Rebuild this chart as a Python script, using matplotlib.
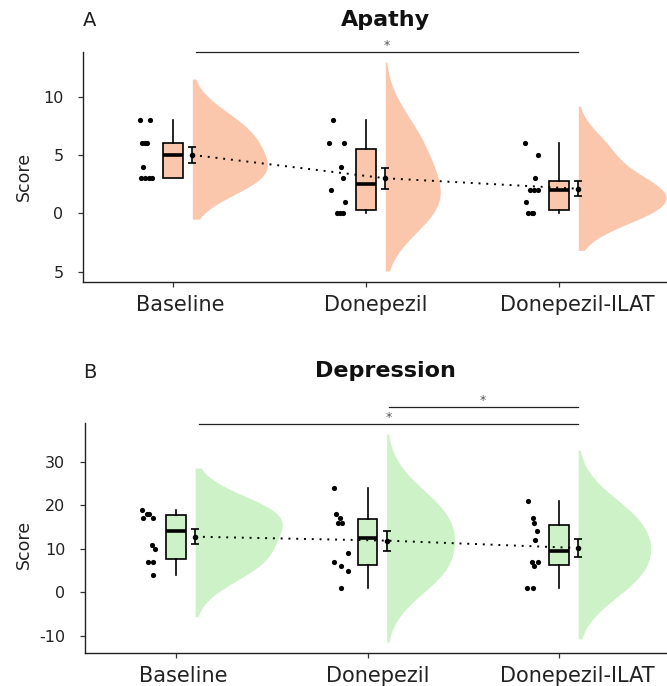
import numpy as np
import matplotlib.pyplot as plt
from matplotlib.transforms import ScaledTranslation

plt.rcParams['axes.unicode_minus'] = False

groups = ['Baseline', 'Donepezil', 'Donepezil-ILAT']

apathy_baseline = [8, 8, 6, 6, 6, 4, 3, 3, 3, 3]
apathy_donepezil = [8, 6, 6, 4, 3, 2, 1, 0, 0, 0]
apathy_ilat = [6, 5, 3, 2, 2, 2, 1, 0, 0, 0]

# depression scores
depression_baseline = [19, 18, 18, 17, 17, 11, 10, 7, 7, 4]
depression_donepezil = [24, 18, 17, 16, 16, 9, 7, 6, 5, 1]
depression_ilat = [21, 17, 16, 14, 12, 7, 7, 6, 1, 1]

# horizontal jitter of the dots, pixels left of the category tick
apathy_jitter = [[-33, -23, -31, -28, -26, -30, -32, -28, -24, -21],
                 [-33, -37, -22, -25, -23, -35, -21, -29, -26, -23],
                 [-34, -21, -24, -29, -25, -21, -33, -31, -27, -26]]
depression_jitter = [[-34, -29, -27, -33, -23, -24, -21, -28, -23, -23],
                     [-34, -32, -28, -30, -26, -20, -34, -27, -20, -27],
                     [-31, -26, -25, -22, -24, -27, -21, -25, -32, -26]]

# significance brackets: x start, x end, star x
apathy_sig = [(1.12, 3.1, 2.11)]
depression_sig = [(1.12, 3.1, 2.11), (2.11, 3.1, 2.6)]

SALMON = '#FAC6AC'
GREEN = '#CDF2C7'
PX = 193.0      # pixels per category unit
VW = 0.455      # max half-violin width
OFF = 0.1       # offset of violin / mean+se from the tick
ADJUST = 1.5    # bandwidth adjust, range still cut at 3 * unadjusted bw


def bw_nrd0(x):
    x = np.asarray(x, float)
    sd = x.std(ddof=1)
    q75, q25 = np.percentile(x, [75, 25])
    return 0.9 * min(sd, (q75 - q25) / 1.34) * len(x) ** -0.2


def density(x):
    x = np.asarray(x, float)
    bw = bw_nrd0(x)
    grid = np.linspace(x.min() - 3 * bw, x.max() + 3 * bw, 512)
    h = bw * ADJUST
    d = np.exp(-0.5 * ((grid[:, None] - x[None, :]) / h) ** 2).sum(1)
    d = d / (len(x) * h * np.sqrt(2 * np.pi))
    return grid, d


def draw_panel(ax, series, jitters, color, sig, sig_y, sig_step):
    pos = np.arange(1, len(series) + 1)
    dens = [density(v) for v in series]
    dmax = max(d.max() for _, d in dens)
    for p, (grid, d) in zip(pos, dens):
        ax.fill_betweenx(grid, p + OFF, p + OFF + d / dmax * VW,
                         color=color, lw=0, zorder=1)
    for p, vals, jit in zip(pos, series, jitters):
        ax.scatter(p + np.array(jit) / PX, vals, s=14, c='black', lw=0, zorder=3)
    ax.boxplot(series, positions=pos, widths=0.104, patch_artist=True,
               showfliers=False, showcaps=False,
               boxprops=dict(facecolor=color, edgecolor='black', lw=1.2),
               medianprops=dict(color='black', lw=2.6),
               whiskerprops=dict(color='black', lw=1.2))
    means = np.array([np.mean(v) for v in series])
    se = np.array([np.std(v, ddof=1) / np.sqrt(len(v)) for v in series])
    ax.errorbar(pos + OFF, means, yerr=se, fmt='o', ms=3, color='black',
                capsize=3, elinewidth=1.2, capthick=1.2, zorder=4)
    ax.plot(pos + OFF, means, ls=(0, (1, 3)), color='black', lw=1.4, zorder=5)
    for k, (x1, x2, xs) in enumerate(sig):
        y = sig_y + k * sig_step
        ax.plot([x1, x2], [y, y], color='#222222', lw=0.9, clip_on=False)
        ax.annotate('*', (xs, y), xytext=(0, 4.5), textcoords='offset points',
                    ha='center', va='center', fontsize=9, color='#555555',
                    annotation_clip=False)

    ax.set_xticks(pos, groups)
    for sp in ['top', 'right']:
        ax.spines[sp].set_visible(False)
    for sp in ['left', 'bottom']:
        ax.spines[sp].set_color('#222222')
        ax.spines[sp].set_linewidth(1.0)
    ax.tick_params(axis='both', length=3.6, width=0.9, color='#333333',
                   labelcolor='#222222')
    ax.tick_params(axis='x', labelsize=15, pad=5.5)
    ax.tick_params(axis='y', labelsize=11.5, pad=10.5)
    # labels in the reference sit a little right of their ticks
    for lab, dx in zip(ax.get_xticklabels(), [7, 10, 18]):
        lab.set_transform(lab.get_transform() +
                          ScaledTranslation(dx / 100, 0, fig.dpi_scale_trans))
    ax.set_ylabel('Score', fontsize=12.5, color='#222222')


fig = plt.figure(figsize=(6.67, 6.86), dpi=100)
W, H = 667.0, 686.0

ax1 = fig.add_axes([83 / W, 1 - 282 / H, (W - 83) / W, 230 / H])
draw_panel(ax1, [apathy_baseline, apathy_donepezil, apathy_ilat],
           apathy_jitter, SALMON, apathy_sig, 13.82, 0)
ax1.set_xlim(1 - 90 / PX, 3 + 108 / PX)
ax1.set_ylim(-5.89, 13.82)
ax1.set_yticks([-5, 0, 5, 10], ['5', '0', '5', '10'])
ax1.yaxis.set_label_coords((33 - 83) / (W - 83), 0.457)

ax2 = fig.add_axes([85 / W, 1 - 653 / H, (W - 85) / W, 230 / H])
draw_panel(ax2, [depression_baseline, depression_donepezil, depression_ilat],
           depression_jitter, GREEN, depression_sig, 38.65, 3.9)
ax2.set_xlim(1 - 91 / 191.5, 3 + 108 / 191.5)
ax2.set_ylim(-13.9, 38.9)
ax2.set_yticks([-10, 0, 10, 20, 30])
ax2.yaxis.set_label_coords((33 - 85) / (W - 85), 0.474)

fig.text(83 / W, 1 - 20 / H, 'A', ha='left', va='center', fontsize=14, color='#222222')
fig.text(385 / W, 1 - 20 / H, 'Apathy', ha='center', va='center',
         fontsize=16, fontweight='bold', color='#111111')
fig.text(83 / W, 1 - 372 / H, 'B', ha='left', va='center', fontsize=14, color='#222222')
fig.text(385 / W, 1 - 371 / H, 'Depression', ha='center', va='center',
         fontsize=16, fontweight='bold', color='#111111')

fig.savefig('out.png', dpi=100)
